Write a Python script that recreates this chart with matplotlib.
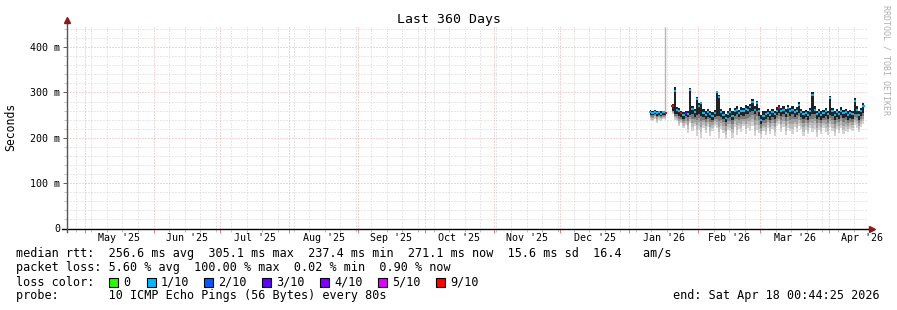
import numpy as np
import pandas as pd
import matplotlib
matplotlib.use('Agg')
import matplotlib.pyplot as plt
import matplotlib.dates as mdates
from matplotlib.patches import Rectangle
from matplotlib.lines import Line2D

plt.rcParams['font.family'] = ['DejaVu Sans Mono', 'DejaVu Sans']

#%% data (one value per day, ms)
t_start = pd.Timestamp('2025-04-23 00:44:25')
t_end = pd.Timestamp('2026-04-18 00:44:25')
days = pd.date_range('2026-01-10 12:00', periods=97, freq='D')

nan = np.nan
median_ms = [256, 255, 257, 254, 256, 253, 256, 255, nan, nan,
             270, 303, 262, 258, 254, 250, 255, 253, 306, 264,
             256, 285, 270, 276, 255, 250, 256, 252, 248, 254,
             300, 290, 256, 250, 243, 252, 256, 249, 258, 262,
             255, 260, 258, 264, 262, 268, 280, 262, 276, 258,
             239, 248, 252, 255, 250, 256, 252, 260, 265, 258,
             262, 255, 265, 258, 262, 256, 260, 272, 256, 252,
             255, 250, 258, 294, 262, 252, 256, 250, 254, 258,
             252, 287, 258, 250, 256, 252, 260, 254, 256, 250,
             254, 252, 281, 262, 250, 258, 270]
smoke_hi = [261, 259, 261, 259, 260, 258, 260, 261, nan, nan,
            274, 312, 268, 266, 260, 256, 260, 260, 310, 270,
            263, 290, 276, 280, 263, 258, 264, 260, 256, 262,
            304, 294, 264, 258, 252, 260, 265, 258, 266, 270,
            262, 268, 266, 272, 270, 275, 286, 270, 282, 266,
            250, 258, 260, 263, 258, 264, 260, 268, 272, 266,
            270, 264, 272, 266, 270, 264, 268, 278, 264, 260,
            262, 258, 266, 300, 270, 260, 264, 258, 262, 266,
            260, 292, 266, 258, 264, 260, 268, 262, 264, 258,
            262, 260, 288, 270, 258, 266, 276]
dark_lo = [251, 250, 252, 249, 251, 248, 251, 250, nan, nan,
           260, 252, 252, 248, 246, 242, 248, 246, 250, 252,
           246, 250, 252, 248, 246, 242, 246, 244, 240, 246,
           248, 248, 246, 242, 234, 244, 246, 240, 248, 252,
           246, 250, 248, 252, 252, 256, 258, 252, 258, 248,
           230, 240, 242, 246, 240, 246, 242, 250, 254, 248,
           252, 246, 254, 248, 252, 246, 250, 254, 246, 242,
           246, 240, 248, 252, 252, 242, 246, 240, 244, 248,
           242, 250, 248, 240, 246, 242, 250, 244, 246, 240,
           244, 242, 252, 252, 240, 248, 254]
smoke_lo = [240, 236, 242, 232, 240, 238, 242, 240, nan, nan,
            252, 240, 236, 226, 232, 222, 228, 210, 232, 214,
            225, 205, 218, 200, 222, 210, 224, 204, 215, 226,
            222, 200, 220, 210, 198, 218, 214, 200, 224, 206,
            220, 212, 226, 208, 222, 216, 226, 204, 218, 210,
            200, 214, 206, 222, 208, 220, 204, 226, 230, 212,
            224, 206, 222, 214, 208, 224, 212, 226, 220, 204,
            218, 208, 222, 212, 220, 202, 218, 208, 222, 212,
            206, 224, 214, 204, 220, 210, 222, 208, 216, 212,
            220, 214, 228, 222, 212, 224, 230]
# index into loss_colors
loss_level = [1, 1, 1, 1, 1, 1, 1, 6, 1, 1,
              6, 1, 1, 1, 6, 1, 3, 1, 1, 1,
              1, 1, 1, 1, 1, 1, 1, 1, 1, 1,
              1, 1, 1, 1, 1, 1, 1, 1, 1, 1,
              1, 1, 1, 1, 1, 1, 1, 1, 1, 1,
              1, 1, 1, 1, 1, 1, 1, 1, 6, 1,
              1, 1, 1, 1, 1, 1, 1, 1, 1, 1,
              1, 1, 1, 1, 1, 1, 1, 1, 1, 1,
              1, 1, 1, 1, 1, 1, 1, 1, 1, 1,
              1, 1, 1, 1, 1, 1, 1]
# lone outlier column (max ping)
spike_day = ['2026-01-17 00:00']
spike_lo = [255]
spike_hi = [445]

loss_labels = ['0', '1/10', '2/10', '3/10', '4/10', '5/10', '9/10']
loss_colors = ['#26ff00', '#00b8ff', '#0059ff', '#5e00ff', '#7e00ff', '#dd00ff', '#ff0000']

month_labels = ["May '25", "Jun '25", "Jul '25", "Aug '25", "Sep '25", "Oct '25",
                "Nov '25", "Dec '25", "Jan '26", "Feb '26", "Mar '26", "Apr '26"]

footer = ["median rtt:  256.6 ms avg  305.1 ms max  237.4 ms min  271.1 ms now  15.6 ms sd  16.4   am/s",
          "packet loss: 5.60 % avg  100.00 % max  0.02 % min  0.90 % now",
          "loss color:",
          "probe:       10 ICMP Echo Pings (56 Bytes) every 80s"]
end_text = "end: Sat Apr 18 00:44:25 2026"

#%% figure
W, H = 897, 310
fig = plt.figure(figsize=(W / 100, H / 100), dpi=100)
fig.patch.set_facecolor('white')

def fx(px):
    return px / W

def fy(py):
    return 1 - py / H

ax = fig.add_axes([fx(67), fy(228.5), 800 / W, 203.5 / H])
ax.set_xlim(mdates.date2num(t_start), mdates.date2num(t_end))
ax.set_ylim(0, 448.7)

x = mdates.date2num(days)
med = np.array(median_ms, dtype=float)
hi = np.array(smoke_hi, dtype=float)
dlo = np.array(dark_lo, dtype=float)
lo = np.array(smoke_lo, dtype=float)

# smoke, light at the bottom getting darker upwards
shades = ['#d4d4d4', '#bdbdbd', '#a0a0a0', '#7a7a7a']
for k in range(4):
    y0 = lo + (dlo - lo) * k / 4
    y1 = lo + (dlo - lo) * (k + 1) / 4
    ax.fill_between(x, y0, y1, step='mid', color=shades[k], lw=0, zorder=3)
ax.fill_between(x, dlo, hi, step='mid', color='#222222', lw=0, zorder=3)

sx = mdates.date2num(pd.to_datetime(spike_day))
ax.vlines(sx, spike_lo, spike_hi, color='#b4b4b4', lw=1, zorder=3)

# median, coloured by loss
ok = ~np.isnan(med)
ax.hlines(med[ok], x[ok] - 0.5, x[ok] + 0.5,
          colors=[loss_colors[l] for l, o in zip(loss_level, ok) if o], lw=1.5, zorder=4)

# grid
ax.xaxis.set_major_locator(mdates.MonthLocator())
ax.xaxis.set_minor_locator(mdates.WeekdayLocator(byweekday=mdates.SU))
ax.xaxis.set_major_formatter(plt.NullFormatter())
ax.yaxis.set_major_locator(plt.MultipleLocator(100))
ax.yaxis.set_minor_locator(plt.MultipleLocator(20))
ax.yaxis.set_major_formatter(plt.FuncFormatter(lambda v, p: '0' if v == 0 else '%d m' % v))
ax.grid(which='minor', color='#d2d2d2', ls=(0, (1, 2)), lw=0.72, zorder=0)
ax.grid(which='major', color='#f0a8a8', ls=(0, (1, 2)), lw=0.72, zorder=1)
ax.set_axisbelow(True)

ax.tick_params(axis='x', which='major', length=3, color='#f08080', width=0.72, labelsize=7.2)
ax.tick_params(axis='x', which='minor', length=2, color='#c8c8c8', width=0.72)
ax.tick_params(axis='y', which='major', length=3, color='#606060', width=0.72, labelsize=7.2, pad=2)
ax.tick_params(axis='y', which='minor', length=2, color='#c8c8c8', width=0.72)
for s in ax.spines.values():
    s.set_visible(False)

# month labels centred in the month
months = pd.date_range('2025-05-01', periods=13, freq='MS')
for i, lab in enumerate(month_labels):
    mid = months[i] + (months[i + 1] - months[i]) / 2
    ax.text(mdates.date2num(mid), -0.048, lab, transform=ax.get_xaxis_transform(),
            ha='center', va='center', fontsize=7.2, color='#000000')

# axis lines with arrows
ax.add_line(Line2D([-5 / 800, 1 + 4 / 800], [0, 0], transform=ax.transAxes,
                   color='black', lw=1, clip_on=False, zorder=6))
ax.add_line(Line2D([0, 0], [-3 / 203.5, 1 + 2 / 203.5], transform=ax.transAxes,
                   color='#555555', lw=1, clip_on=False, zorder=6))
ax.plot([1 + 5 / 800], [0], marker='>', ms=4, color='#8b1a1a', transform=ax.transAxes,
        clip_on=False, zorder=7)
ax.plot([0], [1 + 5 / 203.5], marker='^', ms=4, color='#8b1a1a', transform=ax.transAxes,
        clip_on=False, zorder=7)

# texts
fig.text(0.5, fy(19), 'Last 360 Days', ha='center', va='center', fontsize=9.5)
fig.text(fx(11), fy(127), 'Seconds', rotation=90, ha='center', va='center', fontsize=8.3)
fig.text(fx(886), fy(60), 'RRDTOOL / TOBI OETIKER', rotation=270, ha='center', va='center',
         fontsize=6, color='#b0b0b0')

rows = [254, 268, 282, 296]
for txt, r in zip(footer, rows):
    fig.text(fx(16), fy(r), txt, ha='left', va='center', fontsize=8.5)
fig.text(fx(880), fy(296), end_text, ha='right', va='center', fontsize=8.5)

box_x = [109, 147, 204, 262, 320, 378, 436]
for bx, col, lab in zip(box_x, loss_colors, loss_labels):
    fig.patches.append(Rectangle((fx(bx), fy(287)), 9 / W, 9 / H, transform=fig.transFigure,
                                 facecolor=col, edgecolor='black', lw=0.8))
    fig.text(fx(bx + 14), fy(282), lab, ha='left', va='center', fontsize=8.5)

fig.savefig('out.png', dpi=100, facecolor='white')
